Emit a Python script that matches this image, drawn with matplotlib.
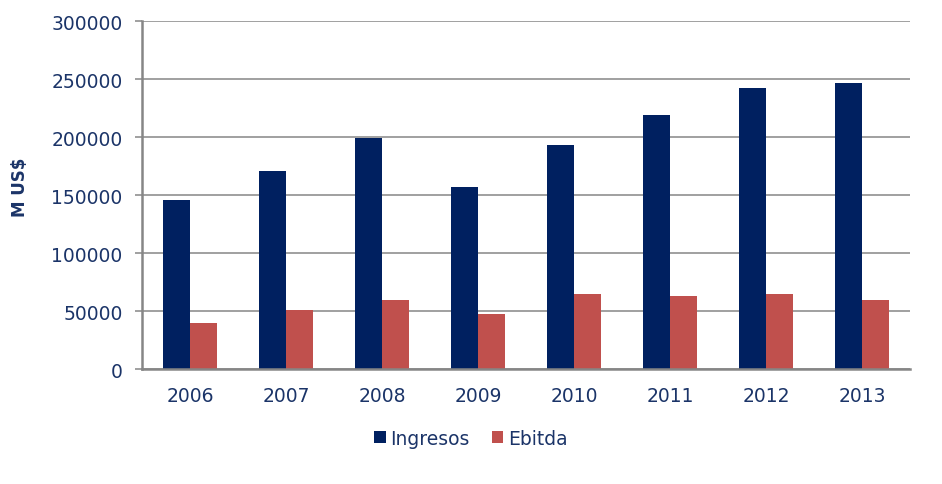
import numpy as np
import matplotlib
matplotlib.use("Agg")
import matplotlib.pyplot as plt

years = ["2006", "2007", "2008", "2009", "2010", "2011", "2012", "2013"]
ingresos = [145500, 170700, 199500, 156700, 193500, 218800, 242500, 246400]
ebitda = [40000, 50900, 59500, 47700, 64400, 63300, 64400, 59500]

navy = "#002060"
red = "#C0504D"
txt = "#1B3468"
grey = "#868686"

plt.rcParams['font.family'] = ['DejaVu Sans']

fig = plt.figure(figsize=(9.42, 4.85), dpi=100)
ax = fig.add_axes([0.1507, 0.2371, 0.8153, 0.7175])

x = np.arange(len(years))
w = 1 / 3.5
ax.bar(x - w / 2, ingresos, w, color=navy, label="Ingresos", zorder=3)
ax.bar(x + w / 2, ebitda, w, color=red, label="Ebitda", zorder=3)

ax.set_xlim(-0.5, len(years) - 0.5)
ax.set_ylim(0, 300000)
ax.set_yticks(range(0, 300001, 50000))
ax.set_xticks(x)
ax.set_xticklabels(years)

ax.grid(axis="y", color=grey, lw=1.1, zorder=0)
for s in ["top", "right"]:
    ax.spines[s].set_visible(False)
for s in ["left", "bottom"]:
    ax.spines[s].set_color(grey)
    ax.spines[s].set_linewidth(1.8)
    ax.spines[s].set_zorder(4)

ax.tick_params(axis="y", colors=grey, labelcolor=txt, labelsize=13.5, length=5, width=1.1, pad=9)
ax.tick_params(axis="x", length=0, labelcolor=txt, labelsize=13.5, pad=12)

ax.set_ylabel("M US$", color=txt, fontsize=12, fontweight="bold")
ax.yaxis.set_label_coords(-0.147, 0.525)

leg = fig.legend(loc="lower center", bbox_to_anchor=(0.5, 0.04), ncol=2, frameon=False,
                 fontsize=13.5, handlelength=0.6, handleheight=0.6, handletextpad=0.25,
                 columnspacing=1.2, labelcolor=txt)

fig.savefig("out.png", dpi=100)
